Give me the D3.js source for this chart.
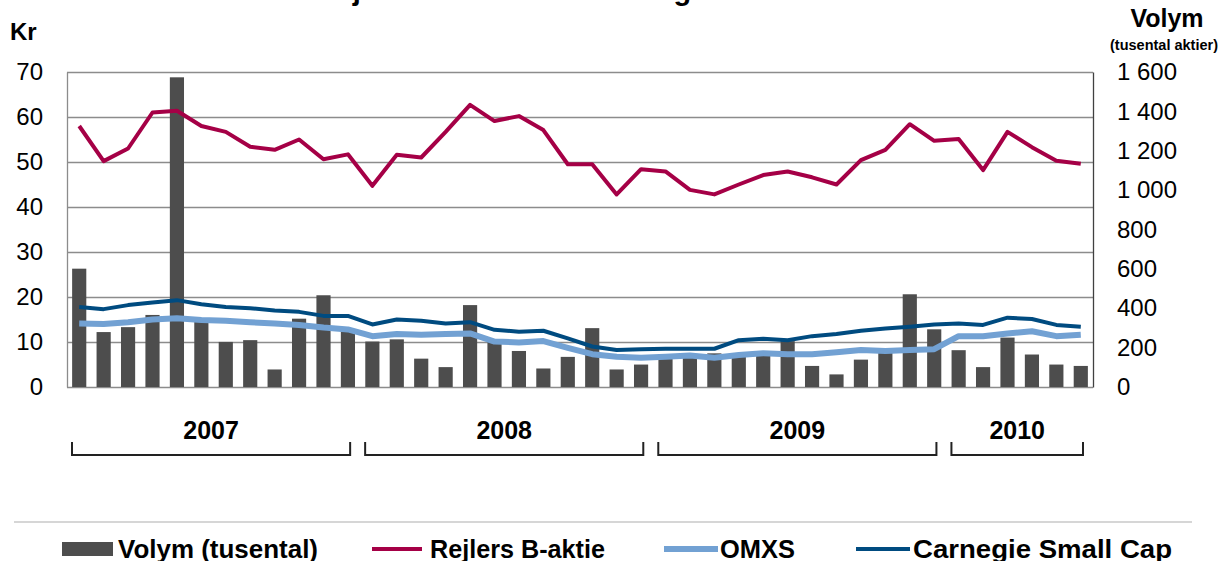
<!DOCTYPE html>
<html>
<head>
<meta charset="utf-8">
<script src="https://cdn.jsdelivr.net/npm/d3@7"></script>
<style>
  body { margin: 0; background: #fff; }
  svg { display: block; font-family: Arial, "Liberation Sans", sans-serif; }
  .tick text { fill: #000; }
</style>
</head>
<body>
<script>
// monthly data, Jan 2007 - Jun 2010
var months = [
  "2007-01","2007-02","2007-03","2007-04","2007-05","2007-06","2007-07","2007-08","2007-09","2007-10","2007-11","2007-12",
  "2008-01","2008-02","2008-03","2008-04","2008-05","2008-06","2008-07","2008-08","2008-09","2008-10","2008-11","2008-12",
  "2009-01","2009-02","2009-03","2009-04","2009-05","2009-06","2009-07","2009-08","2009-09","2009-10","2009-11","2009-12",
  "2010-01","2010-02","2010-03","2010-04","2010-05","2010-06"]

// volym, tusental aktier (right axis)
var volym = [601, 279, 304, 366, 1573, 343, 229, 238, 89, 347, 466, 286,
             231, 242, 144, 101, 416, 240, 183, 94, 153, 299, 89, 114,
             142, 160, 171, 160, 167, 233, 107, 64, 139, 190, 471, 293,
             187, 101, 251, 165, 114, 107]

// kr (left axis)
var rejlers = [58.0, 50.2, 53.0, 61.0, 61.4, 58.0, 56.7, 53.4, 52.7, 55.0, 50.6, 51.7,
               44.7, 51.6, 51.0, 56.7, 62.7, 59.1, 60.2, 57.1, 49.5, 49.5, 42.8, 48.4,
               47.9, 43.8, 42.8, 45.0, 47.1, 47.9, 46.6, 45.0, 50.4, 52.7, 58.4, 54.7,
               55.1, 48.2, 56.7, 53.3, 50.3, 49.6]

var omxs = [14.1, 14.0, 14.4, 15.0, 15.3, 14.9, 14.7, 14.4, 14.1, 13.8, 13.2, 12.8,
            11.3, 11.8, 11.6, 11.8, 11.9, 10.1, 9.9, 10.2, 8.7, 7.3, 6.7, 6.5,
            6.7, 7.0, 6.5, 7.1, 7.5, 7.3, 7.3, 7.7, 8.2, 8.0, 8.2, 8.4,
            11.3, 11.3, 11.9, 12.4, 11.3, 11.6]

var carnegie = [17.8, 17.3, 18.2, 18.8, 19.3, 18.4, 17.8, 17.5, 17.0, 16.7, 15.8, 15.8,
                13.9, 15.0, 14.7, 14.1, 14.4, 12.7, 12.3, 12.5, 10.8, 9.0, 8.2, 8.4,
                8.5, 8.5, 8.5, 10.4, 10.7, 10.4, 11.3, 11.8, 12.5, 13.0, 13.4, 13.9,
                14.1, 13.8, 15.4, 15.1, 13.8, 13.4]

var years = ["2007", "2008", "2009", "2010"]
var yearFirst = ["2007-01", "2008-01", "2009-01", "2010-01"]
var yearLast = ["2007-12", "2008-12", "2009-12", "2010-06"]

var leftTicks = [0, 10, 20, 30, 40, 50, 60, 70]
var rightTicks = [0, 200, 400, 600, 800, 1000, 1200, 1400, 1600]

var legendNames = ["Volym (tusental)", "Rejlers B-aktie", "OMXS", "Carnegie Small Cap"]

WIDTH = 1221
HEIGHT = 561
LEFT = 67
RIGHT = 1093
TOP = 72
BOTTOM = 387

BAR = "#4d4d4d"
REJLERS = "#a50046"
OMXS = "#72a1d3"
CARNEGIE = "#004b80"
GRID = "#8c8c8c"

var svg = d3.select("body").append("svg")
            .attr("width", WIDTH)
            .attr("height", HEIGHT)

var x = d3.scaleBand().domain(months).range([LEFT, RIGHT]).padding(0)
var yLeft = d3.scaleLinear().domain([0, 70]).range([BOTTOM, TOP])
var yRight = d3.scaleLinear().domain([0, 1600]).range([BOTTOM, TOP])
var barWidth = x.bandwidth() * 0.58

var spaceFormat = d3.formatLocale({decimal: ",", thousands: " ", grouping: [3], currency: ["", ""]}).format(",")

// title, mostly cut off at the top edge
svg.append("text").attr("x", 580).attr("y", 0)
   .attr("text-anchor", "middle").attr("font-size", 29).attr("font-weight", "bold")
   .text("Rejlers aktiekursutveckling 2007–2010")

// gridlines
svg.append("g").attr("class", "grid")
   .call(d3.axisLeft(yLeft).tickValues(leftTicks).tickSize(-(RIGHT - LEFT)).tickFormat(""))
   .attr("transform", "translate(" + LEFT + ",0)")
   .call(function(g) { g.select(".domain").remove() })
   .selectAll("line").attr("stroke", GRID).attr("stroke-width", 1.3)

// left axis
svg.append("g")
   .call(d3.axisLeft(yLeft).tickValues(leftTicks).tickSize(0).tickPadding(24))
   .attr("transform", "translate(" + LEFT + ",0)")
   .call(function(g) {
     g.select(".domain").attr("stroke", GRID).attr("stroke-width", 1.3)
     g.selectAll("text").attr("font-size", 24).attr("font-family", "Arial, 'Liberation Sans', sans-serif")
   })

// right axis
svg.append("g")
   .call(d3.axisRight(yRight).tickValues(rightTicks).tickSize(0).tickPadding(24).tickFormat(spaceFormat))
   .attr("transform", "translate(" + RIGHT + ",0)")
   .call(function(g) {
     g.select(".domain").attr("stroke", "#404040").attr("stroke-width", 1.3)
     g.selectAll("text").attr("font-size", 24).attr("font-family", "Arial, 'Liberation Sans', sans-serif")
   })

// axis titles
svg.append("text").attr("x", 10).attr("y", 40)
   .attr("font-size", 24).attr("font-weight", "bold").text("Kr")
svg.append("text").attr("x", 1167).attr("y", 27)
   .attr("text-anchor", "middle").attr("font-size", 25).attr("font-weight", "bold").text("Volym")
svg.append("text").attr("x", 1164).attr("y", 50)
   .attr("text-anchor", "middle").attr("font-size", 14.5).attr("font-weight", "bold").text("(tusental aktier)")

// volume bars
svg.append("g").selectAll("rect")
   .data(volym)
   .join("rect")
   .attr("x", function(d, i) { return x(months[i]) + (x.bandwidth() - barWidth) / 2 })
   .attr("y", function(d) { return yRight(d) })
   .attr("width", barWidth)
   .attr("height", function(d) { return BOTTOM - yRight(d) })
   .attr("fill", BAR)

// lines
function drawLine(values, color, width)
{
  var line = d3.line()
               .x(function(d, i) { return x(months[i]) + x.bandwidth() / 2 })
               .y(function(d) { return yLeft(d) })
  svg.append("path").datum(values)
     .attr("d", line)
     .attr("fill", "none")
     .attr("stroke", color)
     .attr("stroke-width", width)
     .attr("stroke-linejoin", "round")
}
drawLine(rejlers, REJLERS, 4)
drawLine(omxs, OMXS, 6)
drawLine(carnegie, CARNEGIE, 4)

// year brackets
for (var i = 0; i < years.length; i++)
{
  var x0 = x(yearFirst[i]) + 5
  var x1 = x(yearLast[i]) + x.bandwidth() - 10
  svg.append("path")
     .attr("d", "M" + x0 + ",442V455H" + x1 + "V442")
     .attr("fill", "none").attr("stroke", "#222").attr("stroke-width", 2)
  svg.append("text").attr("x", (x0 + x1) / 2).attr("y", 439)
     .attr("text-anchor", "middle").attr("font-size", 25).attr("font-weight", "bold")
     .text(years[i])
}

// legend
svg.append("line").attr("x1", 14).attr("x2", 1192).attr("y1", 522).attr("y2", 522)
   .attr("stroke", "#c8c8c8").attr("stroke-width", 1.5)

var legendSymbolX = [62, 372, 664, 856]
var legendSymbolW = [51, 50, 54, 54]
var legendTextX = [118, 430, 720, 913]
var legendTextW = [200, 175, 75, 259]
var legendColors = [BAR, REJLERS, OMXS, CARNEGIE]
var legendStroke = [0, 4, 6, 4]

for (var i = 0; i < legendNames.length; i++)
{
  if (i === 0)
  {
    svg.append("rect").attr("x", legendSymbolX[i]).attr("y", 542)
       .attr("width", legendSymbolW[i]).attr("height", 14).attr("fill", legendColors[i])
  }
  else
  {
    svg.append("line").attr("x1", legendSymbolX[i]).attr("x2", legendSymbolX[i] + legendSymbolW[i])
       .attr("y1", 549).attr("y2", 549)
       .attr("stroke", legendColors[i]).attr("stroke-width", legendStroke[i])
  }
  svg.append("text").attr("x", legendTextX[i]).attr("y", 558)
     .attr("font-size", 25).attr("font-weight", "bold")
     .attr("textLength", legendTextW[i]).attr("lengthAdjust", "spacingAndGlyphs")
     .text(legendNames[i])
}
</script>
</body>
</html>
